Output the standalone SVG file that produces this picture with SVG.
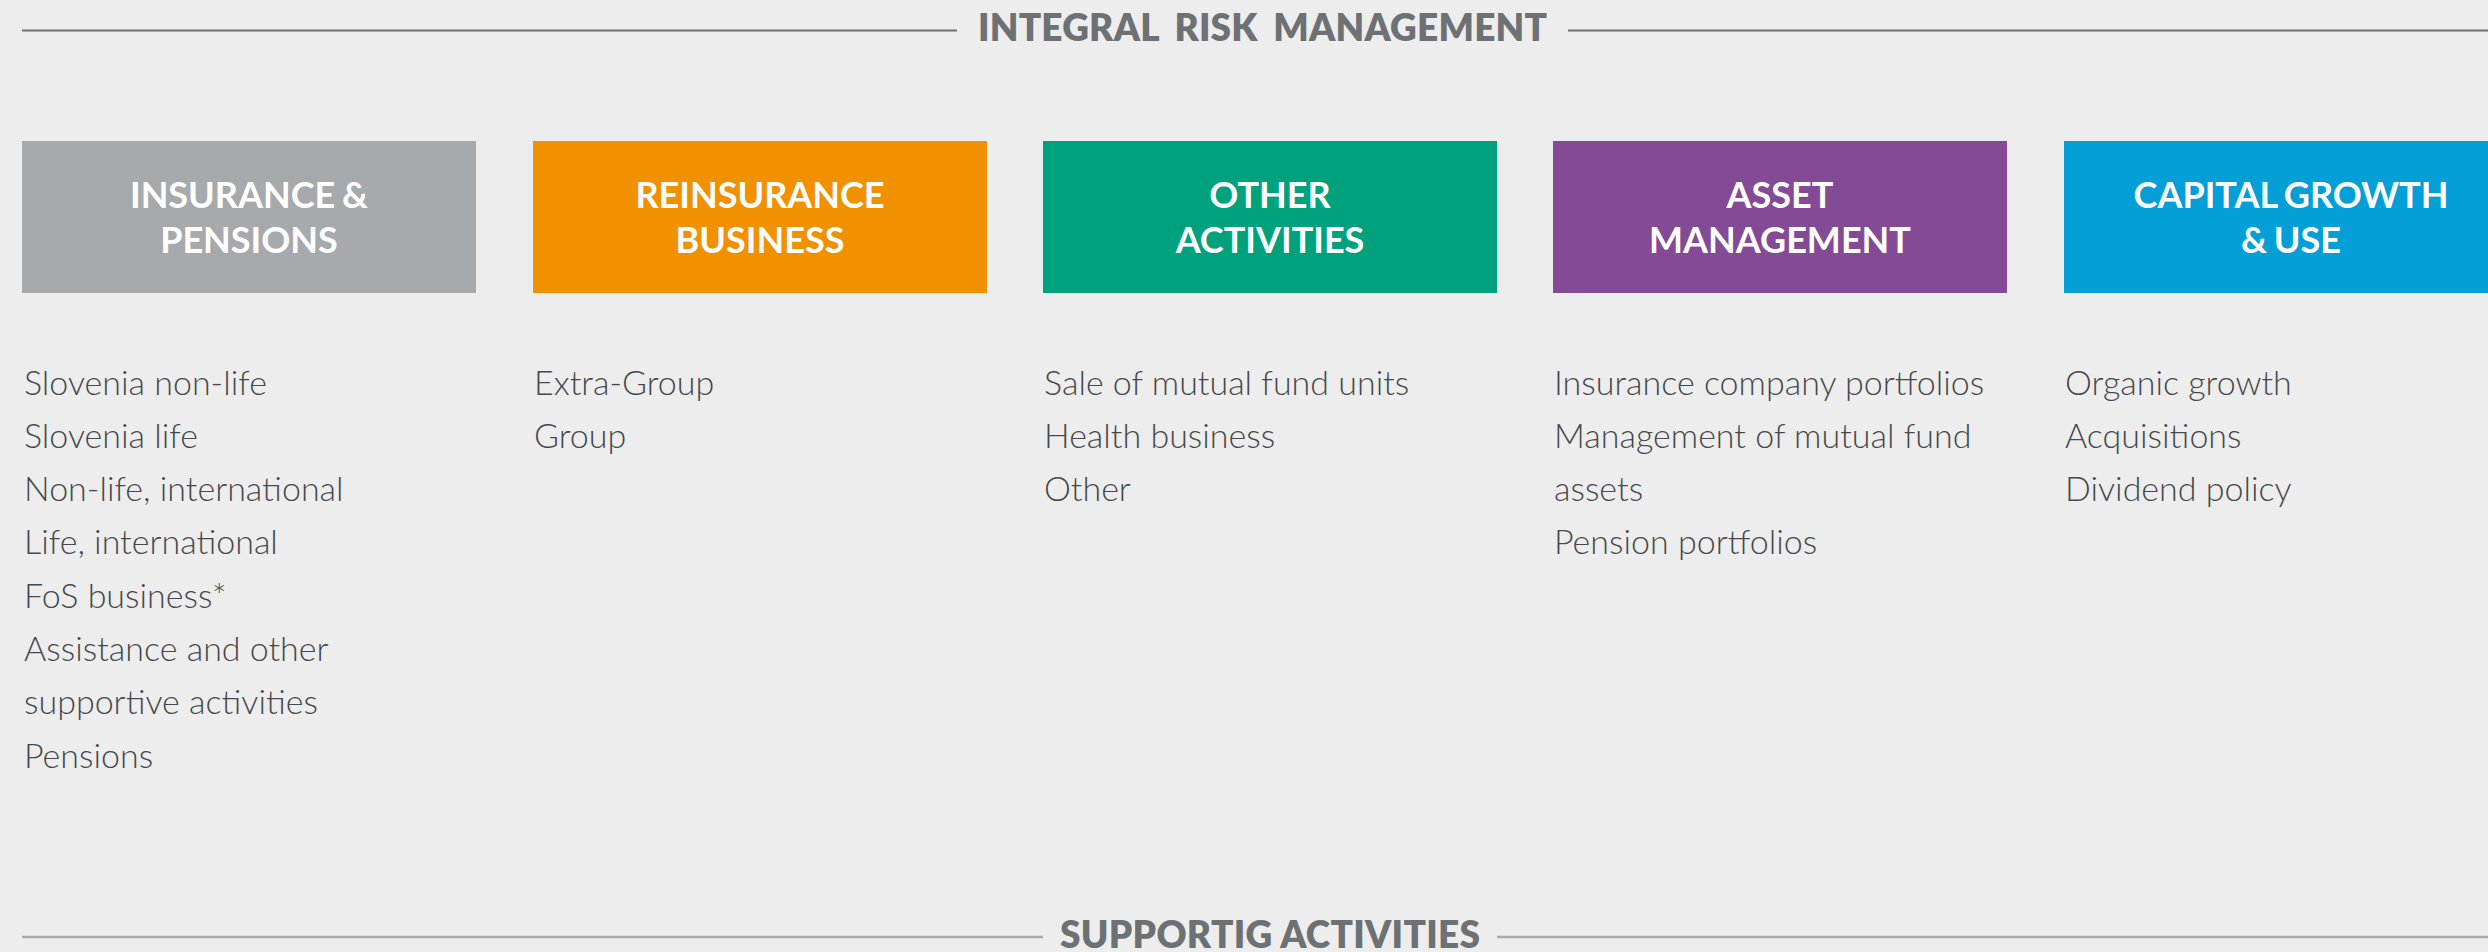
<svg xmlns="http://www.w3.org/2000/svg" width="2488" height="952" viewBox="0 0 2488 952">
  <style>
    .rule-top { stroke: #6e7273; stroke-width: 2; }
    .rule-bottom { stroke: #a9aaaa; stroke-width: 2.5; }
    .heading { font-family: Lato, "Liberation Sans", sans-serif; font-weight: 800; font-size: 37px; fill: #6d7174; }
    .title { font-family: Lato, "Liberation Sans", sans-serif; font-weight: 700; font-size: 36px; fill: #ffffff; text-anchor: middle; word-spacing: -2px; }
    .item { font-family: Lato, "Liberation Sans", sans-serif; font-weight: 300; font-size: 34px; fill: #46494b; }
  </style>

  <rect width="2488" height="952" fill="#ededed"/>

  <!-- section rules -->
  <g id="connectors">
    <line class="rule-top" x1="22" y1="30.5" x2="957" y2="30.5"/>
    <line class="rule-top" x1="1568" y1="30.5" x2="2488" y2="30.5"/>
    <line class="rule-bottom" x1="22" y1="937" x2="1043" y2="937"/>
    <line class="rule-bottom" x1="1497" y1="937" x2="2488" y2="937"/>
  </g>

  <g id="heading-top">
    <text class="heading" x="978" y="41" word-spacing="7" textLength="569">INTEGRAL RISK MANAGEMENT</text>
  </g>
  <g id="heading-bottom">
    <text class="heading" x="1060" y="948" textLength="420">SUPPORTIG ACTIVITIES</text>
  </g>

  <!-- column 1 -->
  <g id="insurance-pensions">
    <rect x="22" y="141" width="454" height="152" fill="#a7aaac"/>
    <text class="title" x="249" y="208">INSURANCE &amp;</text>
    <text class="title" x="249" y="253">PENSIONS</text>
    <text class="item" x="24" y="394.5">Slovenia non-life</text>
    <text class="item" x="24" y="447.8">Slovenia life</text>
    <text class="item" x="24" y="501.1">Non-life, international</text>
    <text class="item" x="24" y="554.4">Life, international</text>
    <text class="item" x="24" y="607.7">FoS business*</text>
    <text class="item" x="24" y="661">Assistance and other</text>
    <text class="item" x="24" y="714.3">supportive activities</text>
    <text class="item" x="24" y="767.6">Pensions</text>
  </g>

  <!-- column 2 -->
  <g id="reinsurance-business">
    <rect x="533" y="141" width="454" height="152" fill="#f29100"/>
    <text class="title" x="760" y="208">REINSURANCE</text>
    <text class="title" x="760" y="253">BUSINESS</text>
    <text class="item" x="534" y="394.5">Extra-Group</text>
    <text class="item" x="534" y="447.8">Group</text>
  </g>

  <!-- column 3 -->
  <g id="other-activities">
    <rect x="1043" y="141" width="454" height="152" fill="#00a27e"/>
    <text class="title" x="1270" y="208">OTHER</text>
    <text class="title" x="1270" y="253">ACTIVITIES</text>
    <text class="item" x="1044" y="394.5">Sale of mutual fund units</text>
    <text class="item" x="1044" y="447.8">Health business</text>
    <text class="item" x="1044" y="501.1">Other</text>
  </g>

  <!-- column 4 -->
  <g id="asset-management">
    <rect x="1553" y="141" width="454" height="152" fill="#834a96"/>
    <text class="title" x="1780" y="208">ASSET</text>
    <text class="title" x="1780" y="253">MANAGEMENT</text>
    <text class="item" x="1554" y="394.5">Insurance company portfolios</text>
    <text class="item" x="1554" y="447.8">Management of mutual fund</text>
    <text class="item" x="1554" y="501.1">assets</text>
    <text class="item" x="1554" y="554.4">Pension portfolios</text>
  </g>

  <!-- column 5 -->
  <g id="capital-growth">
    <rect x="2064" y="141" width="454" height="152" fill="#039fd6"/>
    <text class="title" x="2291" y="208">CAPITAL GROWTH</text>
    <text class="title" x="2291" y="253">&amp; USE</text>
    <text class="item" x="2065" y="394.5">Organic growth</text>
    <text class="item" x="2065" y="447.8">Acquisitions</text>
    <text class="item" x="2065" y="501.1">Dividend policy</text>
  </g>
</svg>
